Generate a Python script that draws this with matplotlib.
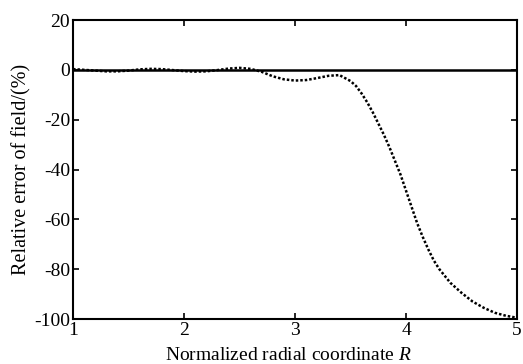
import numpy as np
import matplotlib
matplotlib.use("Agg")
import matplotlib.pyplot as plt

# values
radius = [1.0, 1.1, 1.2, 1.3, 1.4, 1.5, 1.6, 1.7, 1.8, 1.9,
          2.0, 2.1, 2.2, 2.3, 2.4, 2.5, 2.6, 2.7, 2.8, 2.9,
          3.0, 3.1, 3.2, 3.3, 3.4, 3.5, 3.55, 3.6, 3.65, 3.7, 3.75, 3.8, 3.85, 3.9, 3.95,
          4.0, 4.05, 4.1, 4.15, 4.2, 4.25, 4.3, 4.4, 4.5, 4.6, 4.7, 4.8, 4.9, 5.0]
error = [0.3, 0.0, -0.3, -0.6, -0.6, -0.3, 0.2, 0.4, 0.3, -0.1,
         -0.5, -0.7, -0.6, -0.1, 0.5, 0.8, 0.4, -0.8, -2.6, -3.8,
         -4.3, -4.1, -3.3, -2.4, -2.1, -4.5, -6.5, -9.5, -13, -17, -21.5, -26, -31, -36.5, -42,
         -48.5, -55, -61.5, -67, -72, -76.5, -80, -85.5, -89.5, -93, -95.5, -97.5, -98.7, -99.5]
ref_x = [1, 5]
ref_y = [0, 0]

plt.rcParams['font.family'] = 'Liberation Serif'
plt.rcParams['mathtext.fontset'] = 'custom'
plt.rcParams['mathtext.it'] = 'Liberation Serif:italic'
plt.rcParams['mathtext.rm'] = 'Liberation Serif'
plt.rcParams['axes.unicode_minus'] = False

fig = plt.figure(figsize=(5.23, 3.64), dpi=100)
ax = fig.add_axes([0.1396, 0.1236, 0.849, 0.8214])

ax.plot(ref_x, ref_y, color='black', linewidth=1.8)
ax.plot(radius, error, color='black', linewidth=1.8, linestyle=(0, (1, 0.8)))

ax.set_xlim(1, 5)
ax.set_ylim(-100, 20)
ax.set_xticks([1, 2, 3, 4, 5])
ax.set_yticks([20, 0, -20, -40, -60, -80, -100])
ax.tick_params(direction='in', top=True, right=True, length=4, width=1.2,
               labelsize=14, pad=2)
for s in ax.spines.values():
    s.set_linewidth(1.5)

ax.set_xlabel('Normalized radial coordinate $R$', fontsize=14)
ax.xaxis.set_label_coords(0.486, -0.094)
ax.set_ylabel('Relative error of field/(%)', fontsize=14.5, labelpad=2)

fig.savefig('out.png', dpi=100)
